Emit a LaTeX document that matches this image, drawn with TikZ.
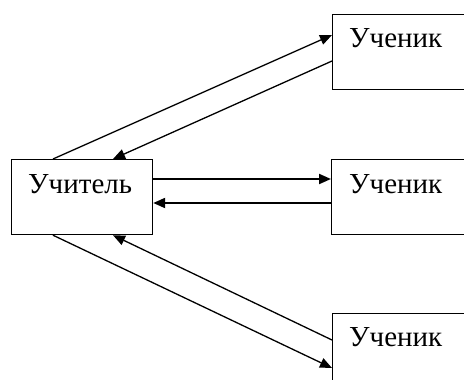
\documentclass[tikz,border=0pt]{standalone}
\usepackage{fontspec}
\setmainfont{Liberation Serif}
\usetikzlibrary{arrows.meta}
\begin{document}
\begin{tikzpicture}
        [x=1pt, y=-1pt,
        box/.style={rectangle, draw, line width=1.2pt, anchor=north west, inner sep=0pt, minimum height=75pt},
        word/.style={anchor=base west, inner sep=0pt, font=\fontsize{29}{32}\selectfont},
        link/.style={line width=1.3pt, -{Triangle[length=12pt,width=10pt]}},
        linkBold/.style={line width=2pt, -{Triangle[length=12pt,width=10pt]}}]
        \clip (0,0) rectangle (464,380);
        \node[box, minimum width=141pt] (T) at (11,159) {};
        \node[box, minimum width=200pt] (S1) at (332,14) {};
        \node[box, minimum width=200pt] (S2) at (331,159) {};
        \node[box, minimum width=200pt, minimum height=100pt] (S3) at (332,313) {};

        \node[word] (tT) at ([xshift=17pt,yshift=-34pt]T.north west) {Учитель};
        \node[word] (tS1) at ([xshift=17pt,yshift=-34pt]S1.north west) {Ученик};
        \node[word] (tS2) at ([xshift=18pt,yshift=-34pt]S2.north west) {Ученик};
        \node[word] (tS3) at ([xshift=17pt,yshift=-33pt]S3.north west) {Ученик};

        \draw[link] ([xshift=42pt]T.north west) -- ([yshift=-21pt]S1.north west);
        \draw[link] ([yshift=-47pt]S1.north west) -- ([xshift=102pt]T.north west);

        \draw[linkBold] ([yshift=-20pt]T.north east) -- ([yshift=-20pt]S2.north west);
        \draw[linkBold] ([yshift=-44pt]S2.north west) -- ([yshift=-44pt]T.north east);

        \draw[link] ([xshift=42pt]T.south west) -- ([yshift=-55pt]S3.north west);
        \draw[link] ([yshift=-27pt]S3.north west) -- ([xshift=102pt]T.south west);
\end{tikzpicture}
\end{document}
